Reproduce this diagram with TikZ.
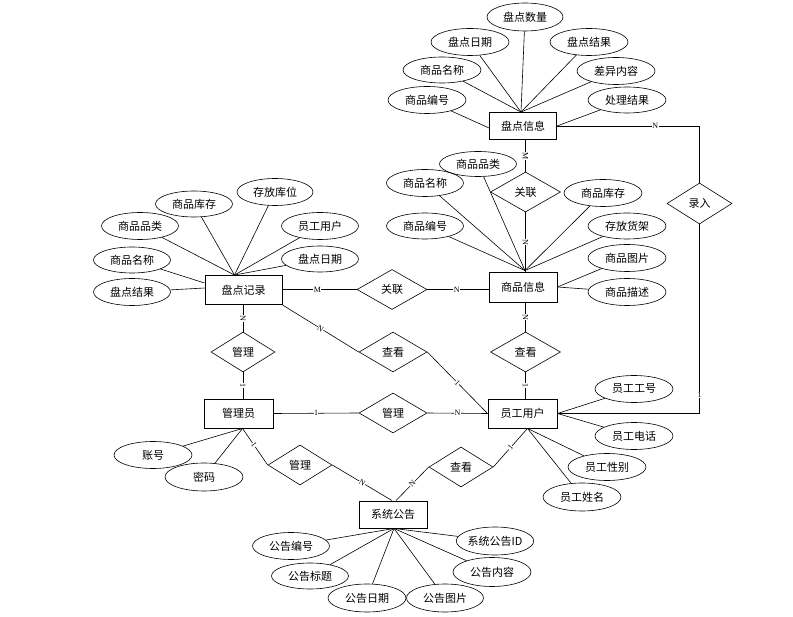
\documentclass[tikz,border=0pt]{standalone}
\usepackage{fontspec}
\setmainfont{Noto Sans CJK SC}
\newfontfamily\latinfont{Liberation Serif}
\usetikzlibrary{shapes.geometric,calc}
\newcommand\cnfnt{\fontsize{11}{12}\selectfont}
\newcommand\labfnt{\latinfont\fontsize{8}{8}\selectfont}
\tikzset{
 ent/.style={draw, line width=0.9pt, minimum width=68pt, minimum height=28pt, inner sep=0pt, font=\cnfnt},
 rel/.style={draw, diamond, line width=0.6pt, minimum width=68pt, minimum height=40pt, inner sep=0pt, font=\cnfnt},
 att/.style={draw, ellipse, line width=0.6pt, minimum width=78pt, minimum height=27pt, inner sep=0pt, font=\cnfnt},
 con/.style={line width=0.6pt},
 lab/.style={fill=white, inner sep=0.4pt, font=\labfnt},
}
\begin{document}
\begin{tikzpicture}[x=1pt,y=-1pt]
\useasboundingbox (0,0) rectangle (793,617);
% entities
\node[ent, minimum width=67pt, minimum height=27pt] (pdxx) at (523,126) {盘点信息};
\node[ent, minimum width=77pt, minimum height=29pt] (pdjl) at (243.5,290) {盘点记录};
\node[ent, minimum width=68pt, minimum height=30pt] (spxx) at (523,287) {商品信息};
\node[ent, minimum width=69pt, minimum height=29pt] (gly) at (238.5,413.5) {管理员};
\node[ent, minimum width=69pt, minimum height=29pt] (ygyh) at (522.5,413.5) {员工用户};
\node[ent, minimum width=68pt, minimum height=27pt] (xtgg) at (393,514.5) {系统公告};
% relationships
\node[rel, minimum width=70pt] (gl1) at (525.5,192) {关联};
\node[rel, minimum width=70pt] (gl2) at (392,289.5) {关联};
\node[rel, minimum width=65pt, minimum height=41pt] (lr) at (699.5,203.5) {录入};
\node[rel, minimum width=64pt] (gl3) at (243,352) {管理};
\node[rel, minimum width=68pt] (ck1) at (393,352) {查看};
\node[rel, minimum width=70pt] (ck2) at (525.5,352) {查看};
\node[rel, minimum width=68pt] (gl4) at (393,413) {管理};
\node[rel, minimum width=64pt] (gl5) at (300,465) {管理};
\node[rel, minimum width=64pt] (ck3) at (461,467) {查看};
% attributes of 盘点信息
\node[att, minimum width=76pt, minimum height=28pt] (a1) at (525,17) {盘点数量};
\node[att] (a2) at (470,42) {盘点日期};
\node[att] (a3) at (589,42) {盘点结果};
\node[att, minimum height=26pt] (a4) at (442,70) {商品名称};
\node[att] (a5) at (616,71) {差异内容};
\node[att] (a6) at (427,100) {商品编号};
\node[att, minimum height=26pt] (a7) at (627,100) {处理结果};
% attributes of 盘点记录
\node[att, minimum width=76pt] (b1) at (275,192) {存放库位};
\node[att, minimum width=77pt, minimum height=26pt] (b2) at (194,204) {商品库存};
\node[att, minimum width=77pt] (b3) at (140,226) {商品品类};
\node[att, minimum width=77pt] (b4) at (320,226) {员工用户};
\node[att, minimum width=77pt, minimum height=26pt] (b5) at (132,260) {商品名称};
\node[att, minimum width=77pt, minimum height=26pt] (b6) at (320,259) {盘点日期};
\node[att, minimum width=77pt] (b7) at (132,292) {盘点结果};
% attributes of 商品信息
\node[att, minimum width=77pt, minimum height=25pt] (c1) at (478,164) {商品品类};
\node[att, minimum width=77pt] (c2) at (425,183) {商品名称};
\node[att] (c3) at (603,193) {商品库存};
\node[att, minimum width=77pt, minimum height=26pt] (c4) at (425,226) {商品编号};
\node[att, minimum height=26pt] (c5) at (627,226) {存放货架};
\node[att] (c6) at (627,258) {商品图片};
\node[att] (c7) at (627,292) {商品描述};
% attributes of 员工用户
\node[att] (d1) at (634,389) {员工工号};
\node[att] (d2) at (634,436) {员工电话};
\node[att] (d3) at (607,467) {员工性别};
\node[att, minimum height=28pt] (d4) at (582,497) {员工姓名};
% attributes of 管理员
\node[att] (e1) at (153,455) {账号};
\node[att, minimum height=28pt] (e2) at (204,477) {密码};
% attributes of 系统公告
\node[att, minimum width=77pt] (f1) at (291,546) {公告编号};
\node[att, minimum width=77pt, minimum height=28pt] (f2) at (495,541) {系统公告ID};
\node[att, minimum width=77pt, minimum height=26pt] (f3) at (310,576) {公告标题};
\node[att, minimum height=29pt] (f4) at (492,572) {公告内容};
\node[att, minimum height=28pt] (f5) at (367,598) {公告日期};
\node[att, minimum width=77pt, minimum height=28pt] (f6) at (445,598) {公告图片};
% attribute connectors
\coordinate (pdxxt) at ($(pdxx.north)+(-2,0)$);
\foreach \a in {a1,a2,a3,a4,a5} \draw[con] (\a) -- (pdxxt);
\draw[con] (a6) -- ($(pdxx.west)+(0,2)$);
\draw[con] (a7) -- (pdxx.east);
\coordinate (pdjlt) at ($(pdjl.north)+(-9,0)$);
\foreach \a in {b1,b2,b3,b4,b6} \draw[con] (\a) -- (pdjlt);
\draw[con] (b5) -- ($(pdjl.west)+(0,-7)$);
\draw[con] (b7) -- ($(pdjl.west)+(0,-2)$);
\coordinate (spxxt) at ($(spxx.north)+(2,-1)$);
\foreach \a in {c1,c2,c3,c4,c5} \draw[con] (\a) -- (spxxt);
\draw[con] (c6) -- (spxx.east);
\draw[con] (c7) -- (spxx.east);
\draw[con] (d1) -- (ygyh.east);
\draw[con] (d2) -- (ygyh.east);
\coordinate (ygyhb) at ($(ygyh.south)+(5,0)$);
\draw[con] (d3) -- (ygyhb);
\draw[con] (d4) -- (ygyhb);
\coordinate (glyb) at ($(gly.south)+(4,0)$);
\draw[con] (e1) -- (glyb);
\draw[con] (e2) -- (glyb);
\coordinate (xtggb) at ($(xtgg.south)+(1,0)$);
\foreach \a in {f1,f2,f3,f4,f5,f6} \draw[con] (\a) -- (xtggb);
% relationship connectors
\draw[con] (gl1.north |- pdxx.south) -- node[lab, sloped]{M} (gl1.north);
\draw[con] (gl1.south) -- node[lab, sloped]{N} (gl1.south |- spxx.north);
\draw[con] (pdjl.east |- gl2.west) -- node[lab, pos=0.47]{M} (gl2.west);
\draw[con] (gl2.east) -- node[lab, pos=0.48]{N} (spxx.west |- gl2.east);
\draw[con] (gl3.north |- pdjl.south) -- node[lab, sloped]{N} (gl3.north);
\draw[con] (gl3.south) -- node[lab, sloped]{1} (gl3.south |- gly.north);
\draw[con] (ck2.north |- spxx.south) -- node[lab, sloped]{N} (ck2.north);
\draw[con] (ck2.south) -- node[lab, sloped]{1} (ck2.south |- ygyh.north);
\draw[con] (pdjl.south east) -- node[lab, sloped, pos=0.5]{N} (ck1.west);
\draw[con] (ck1.east) -- node[lab, sloped, pos=0.5]{1} (ygyh.west);
\draw[con] (gly.east) -- node[lab]{1} (gl4.west);
\draw[con] (gl4.east) -- node[lab]{N} (ygyh.west);
\draw[con] (glyb) -- node[lab, sloped, pos=0.45]{1} (gl5.west);
\draw[con] (gl5.east) -- node[lab, sloped, pos=0.5]{N} ($(xtgg.north)+(-1,0)$);
\draw[con] (ygyhb) -- node[lab, sloped, pos=0.5]{1} (ck3.east);
\draw[con] (ck3.west) -- node[lab, sloped, pos=0.5]{N} ($(xtgg.north)+(3,0)$);
\draw[con] (pdxx.east) -| node[lab, pos=0.345]{N} (lr.north);
\draw[con] (lr.south) |- node[lab, pos=0.45]{1} (ygyh.east);
\end{tikzpicture}
\end{document}
